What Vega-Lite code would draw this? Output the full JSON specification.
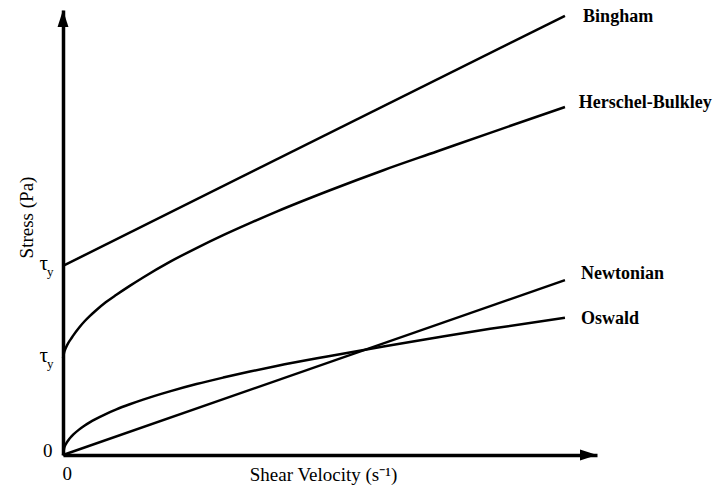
{
  "$schema": "https://vega.github.io/schema/vega-lite/v6.json",
  "width": 534,
  "height": 445,
  "autosize": {"type": "none"},
  "padding": {"left": 63, "top": 10, "right": 122, "bottom": 31},
  "background": "white",
  "config": {
    "view": {"stroke": null},
    "axis": {
      "domainColor": "black",
      "domainWidth": 3.5,
      "ticks": false,
      "tickSize": 0,
      "grid": false,
      "labelFont": "Liberation Serif",
      "labelFontSize": 19,
      "labelColor": "black",
      "titleFont": "Liberation Serif",
      "titleFontSize": 19,
      "titleFontWeight": "normal",
      "titleColor": "black"
    }
  },
  "datasets": {
    "curves": [
      {"model": "Bingham", "x": 0, "y": 42.5},
      {"model": "Bingham", "x": 94, "y": 98.7},
      {"model": "Newtonian", "x": 0, "y": 0},
      {"model": "Newtonian", "x": 94, "y": 39.3},
      {"model": "Herschel-Bulkley", "x": 0, "y": 21.8},
      {"model": "Herschel-Bulkley", "x": 0.25, "y": 23.2},
      {"model": "Herschel-Bulkley", "x": 0.5, "y": 24.0},
      {"model": "Herschel-Bulkley", "x": 1, "y": 25.2},
      {"model": "Herschel-Bulkley", "x": 1.5, "y": 26.1},
      {"model": "Herschel-Bulkley", "x": 2, "y": 27.0},
      {"model": "Herschel-Bulkley", "x": 3, "y": 28.6},
      {"model": "Herschel-Bulkley", "x": 4, "y": 30.0},
      {"model": "Herschel-Bulkley", "x": 5, "y": 31.2},
      {"model": "Herschel-Bulkley", "x": 6, "y": 32.3},
      {"model": "Herschel-Bulkley", "x": 8, "y": 34.3},
      {"model": "Herschel-Bulkley", "x": 10, "y": 36.0},
      {"model": "Herschel-Bulkley", "x": 12.5, "y": 38.0},
      {"model": "Herschel-Bulkley", "x": 15, "y": 39.9},
      {"model": "Herschel-Bulkley", "x": 20, "y": 43.4},
      {"model": "Herschel-Bulkley", "x": 25, "y": 46.5},
      {"model": "Herschel-Bulkley", "x": 30, "y": 49.4},
      {"model": "Herschel-Bulkley", "x": 35, "y": 52.1},
      {"model": "Herschel-Bulkley", "x": 40, "y": 54.7},
      {"model": "Herschel-Bulkley", "x": 50, "y": 59.5},
      {"model": "Herschel-Bulkley", "x": 60, "y": 64.0},
      {"model": "Herschel-Bulkley", "x": 70, "y": 68.2},
      {"model": "Herschel-Bulkley", "x": 80, "y": 72.4},
      {"model": "Herschel-Bulkley", "x": 94, "y": 78.2},
      {"model": "Oswald", "x": 0, "y": 0},
      {"model": "Oswald", "x": 0.25, "y": 1.69},
      {"model": "Oswald", "x": 0.5, "y": 2.37},
      {"model": "Oswald", "x": 1, "y": 3.33},
      {"model": "Oswald", "x": 1.5, "y": 4.06},
      {"model": "Oswald", "x": 2, "y": 4.68},
      {"model": "Oswald", "x": 3, "y": 5.7},
      {"model": "Oswald", "x": 4, "y": 6.57},
      {"model": "Oswald", "x": 5, "y": 7.33},
      {"model": "Oswald", "x": 6, "y": 8.01},
      {"model": "Oswald", "x": 8, "y": 9.2},
      {"model": "Oswald", "x": 10, "y": 10.25},
      {"model": "Oswald", "x": 12.5, "y": 11.4},
      {"model": "Oswald", "x": 15, "y": 12.45},
      {"model": "Oswald", "x": 20, "y": 14.3},
      {"model": "Oswald", "x": 25, "y": 15.95},
      {"model": "Oswald", "x": 30, "y": 17.4},
      {"model": "Oswald", "x": 35, "y": 18.75},
      {"model": "Oswald", "x": 40, "y": 20.0},
      {"model": "Oswald", "x": 50, "y": 22.25},
      {"model": "Oswald", "x": 60, "y": 24.4},
      {"model": "Oswald", "x": 70, "y": 26.4},
      {"model": "Oswald", "x": 80, "y": 28.35},
      {"model": "Oswald", "x": 94, "y": 30.85}
    ],
    "labels": [
      {"model": "Bingham", "x": 97.4, "y": 98.4},
      {"model": "Herschel-Bulkley", "x": 96.6, "y": 79.2},
      {"model": "Newtonian", "x": 97.0, "y": 40.7},
      {"model": "Oswald", "x": 97.0, "y": 30.6}
    ],
    "arrows": [
      {"dir": "up", "x": 0, "y": 100},
      {"dir": "right", "x": 100, "y": 0}
    ],
    "yields": [
      {"model": "Bingham", "y": 42.5},
      {"model": "Herschel-Bulkley", "y": 21.8}
    ]
  },
  "layer": [
    {
      "data": {"name": "curves"},
      "mark": {"type": "line", "color": "black", "strokeWidth": 2.5, "interpolate": "monotone"},
      "encoding": {
        "x": {
          "field": "x", "type": "quantitative",
          "scale": {"domain": [0, 100], "nice": false, "zero": false},
          "axis": {
            "values": [0],
            "labelAlign": "left",
            "labelOffset": -1,
            "labelPadding": 9,
            "title": "Shear Velocity (s⁻¹)",
            "titleX": 260,
            "titleY": 19,
            "titleBaseline": "middle",
            "titleAlign": "center"
          }
        },
        "y": {
          "field": "y", "type": "quantitative",
          "scale": {"domain": [0, 100], "nice": false, "zero": false},
          "axis": {
            "values": [0],
            "labelPadding": 11,
            "labelBaseline": "middle",
            "labelOffset": -5,
            "title": "Stress (Pa)",
            "titleX": -37,
            "titleY": 207,
            "titleAngle": -90,
            "titleBaseline": "middle",
            "titleAlign": "center"
          }
        },
        "detail": {"field": "model"}
      }
    },
    {
      "data": {"name": "arrows"},
      "mark": {"type": "point", "filled": true, "color": "black", "opacity": 1, "size": 1156},
      "encoding": {
        "x": {"field": "x", "type": "quantitative"},
        "y": {"field": "y", "type": "quantitative"},
        "shape": {
          "field": "dir", "type": "nominal",
          "scale": {"domain": ["up", "right"], "range": ["M0,0L0.32,1L-0.32,1Z", "M0,0L-1,-0.32L-1,0.32Z"]},
          "legend": null
        }
      }
    },
    {
      "data": {"name": "labels"},
      "mark": {"type": "text", "align": "left", "baseline": "middle", "font": "Liberation Serif", "fontSize": 18, "fontWeight": "bold", "color": "black"},
      "encoding": {
        "x": {"field": "x", "type": "quantitative"},
        "y": {"field": "y", "type": "quantitative"},
        "text": {"field": "model"}
      }
    },
    {
      "data": {"name": "yields"},
      "mark": {"type": "text", "text": "τ", "align": "right", "baseline": "middle", "dx": -15, "dy": -2, "font": "Liberation Serif", "fontSize": 21, "color": "black"},
      "encoding": {
        "x": {"datum": 0, "type": "quantitative"},
        "y": {"field": "y", "type": "quantitative"}
      }
    },
    {
      "data": {"name": "yields"},
      "mark": {"type": "text", "text": "y", "align": "left", "baseline": "middle", "dx": -16, "dy": 6, "font": "Liberation Serif", "fontSize": 13, "color": "black"},
      "encoding": {
        "x": {"datum": 0, "type": "quantitative"},
        "y": {"field": "y", "type": "quantitative"}
      }
    }
  ]
}
